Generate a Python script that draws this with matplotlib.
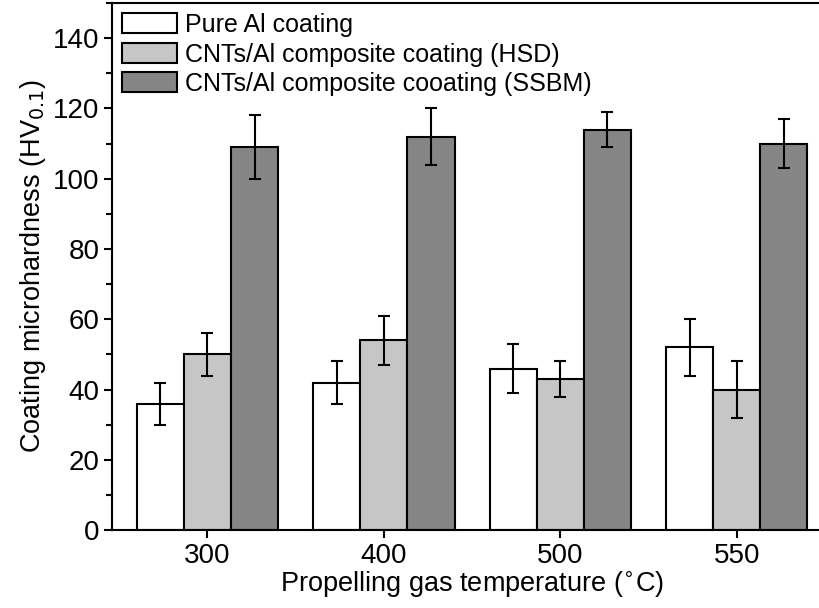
import matplotlib.pyplot as plt
import numpy as np
from matplotlib.ticker import MultipleLocator

plt.rcParams['font.family'] = ['Liberation Sans', 'DejaVu Sans']

# data
temps = ['300', '400', '500', '550']
pure_al = [36, 42, 46, 52]
pure_al_err = [6, 6, 7, 8]
hsd = [50, 54, 43, 40]
hsd_err = [6, 7, 5, 8]
ssbm = [109, 112, 114, 110]
ssbm_err = [9, 8, 5, 7]

series = [
    (pure_al, pure_al_err, '#ffffff', 'Pure Al coating'),
    (hsd, hsd_err, '#c6c6c6', 'CNTs/Al composite coating (HSD)'),
    (ssbm, ssbm_err, '#858585', 'CNTs/Al composite cooating (SSBM)'),
]

fig = plt.figure(figsize=(8.19, 6.08), dpi=100)
# right edge of the frame lies just outside the picture, as in the original
ax = fig.add_axes([0.137, 0.128, 0.879, 0.867])

x = np.arange(len(temps))
w = 0.267
for i, (vals, errs, col, lab) in enumerate(series):
    ax.bar(x + (i - 1) * w, vals, w, color=col, edgecolor='black', linewidth=1.5,
           label=lab, yerr=errs, capsize=4,
           error_kw=dict(elinewidth=1.5, capthick=1.5, ecolor='black'))

ax.set_xlim(-0.54, 3.54)
ax.set_ylim(0, 150)
ax.set_xticks(x)
ax.set_xticklabels(temps)
ax.yaxis.set_major_locator(MultipleLocator(20))
ax.yaxis.set_minor_locator(MultipleLocator(10))
ax.set_yticks([0, 20, 40, 60, 80, 100, 120, 140])
ax.tick_params(axis='both', which='major', direction='out', length=6, width=1.5, labelsize=20, pad=3)
ax.tick_params(axis='y', which='minor', direction='out', length=4, width=1.5)
for s in ax.spines.values():
    s.set_linewidth(1.5)

ax.set_xlabel('Propelling gas temperature ($^{\\circ}$C)', fontsize=19.5, labelpad=0)
ax.set_ylabel('Coating microhardness (HV$_{0.1}$)', fontsize=19.5, labelpad=4)

ax.legend(loc='upper left', frameon=False, fontsize=18, handlelength=2.2, handleheight=0.84,
          handletextpad=0.32, labelspacing=0.22, borderaxespad=0.25, borderpad=0.15)

plt.savefig('out.png', dpi=100)
